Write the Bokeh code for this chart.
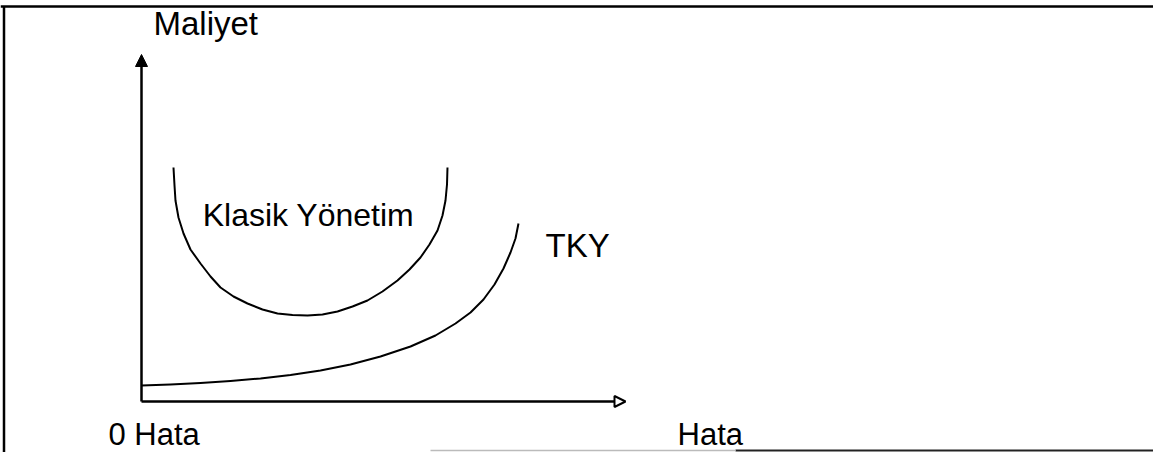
from bokeh.plotting import figure
from bokeh.models import Range1d, Arrow, NormalHead, Label
from bokeh.embed import file_html
from bokeh.resources import INLINE

# ---- data (abstract units: Hata on x, Maliyet on y) ----
tky_hata = [0, 5.99, 12.19, 18.39, 24.59, 30.79, 36.98, 43.18, 49.38, 55.58,
            60.74, 64.88, 67.98, 70.66, 72.93, 74.79, 76.24, 77.27, 77.89]
tky_maliyet = [4.61, 4.90, 5.33, 5.91, 6.63, 7.64, 8.93, 10.66, 12.97, 15.85,
               19.02, 22.48, 25.65, 29.39, 33.72, 38.33, 42.94, 46.97, 51.30]

klasik_hata = [6.61, 6.82, 7.02, 7.64, 8.68, 10.12, 12.19, 14.26, 16.32, 19.01,
               21.90, 25.00, 28.10, 31.20, 34.30, 37.40, 40.50, 43.60, 46.69, 49.79,
               52.89, 55.37, 57.64, 59.50, 61.16, 62.19, 62.81, 63.12, 63.22]
klasik_maliyet = [67.44, 62.25, 57.93, 53.03, 48.41, 43.80, 39.77, 36.02, 32.85, 30.26,
                  28.24, 26.51, 25.36, 24.93, 24.78, 25.07, 25.94, 27.38, 29.11, 31.70,
                  34.87, 38.04, 41.50, 45.24, 49.28, 53.60, 57.93, 62.54, 67.44]

x_axis_max = 100
y_axis_max = 100
y_title = "Maliyet"
x_origin_label = "0 Hata"
x_title = "Hata"
curve_labels = ["Klasik Yönetim", "TKY"]

# ---- layout ----
W, H = 1153, 452
PX, PY = 4.84, 3.47          # pixels per unit
OX, OY = 141, 401            # pixel position of origin
X0, X1 = -OX / PX, (W - OX) / PX
Y0, Y1 = -(H - OY) / PY, OY / PY


def ux(px):
    return (px - OX) / PX


def uy(py):
    return (OY - py) / PY


p = figure(width=W, height=H, output_backend="svg", toolbar_location=None,
           x_range=Range1d(X0, X1), y_range=Range1d(Y0, Y1),
           x_axis_location=None, y_axis_location=None, title=None,
           min_border=0, outline_line_color=None,
           background_fill_color="white", border_fill_color="white",
           styles={"position": "absolute", "left": "0px", "top": "0px"})
p.grid.visible = False

# frame lines of the scanned page
bx, ty, by = ux(3.5), uy(6), uy(450)
p.segment(x0=[bx], y0=[ty], x1=[bx], y1=[Y0], line_color="black", line_width=2.5)
p.segment(x0=[X0], y0=[ty], x1=[X1], y1=[ty], line_color="black", line_width=2.5)
p.segment(x0=[ux(735)], y0=[by], x1=[X1], y1=[by], line_color="#222222", line_width=2)
p.segment(x0=[ux(430)], y0=[by], x1=[ux(735)], y1=[by], line_color="#bbbbbb", line_width=1.5)

# axes with arrows
p.add_layout(Arrow(x_start=0, y_start=0, x_end=0, y_end=y_axis_max,
                   line_color="black", line_width=2.5,
                   end=NormalHead(size=12, fill_color="black", line_color="black", line_width=1)))
p.add_layout(Arrow(x_start=0, y_start=0, x_end=x_axis_max, y_end=0,
                   line_color="black", line_width=2.5,
                   end=NormalHead(size=11, fill_color="white", line_color="black", line_width=2)))

# curves
p.line(tky_hata, tky_maliyet, line_color="black", line_width=2, line_join="round")
p.line(klasik_hata, klasik_maliyet, line_color="black", line_width=2, line_join="round")

FONT = "Liberation Sans"


def label(px, py, text, size, align="left"):
    p.add_layout(Label(x=ux(px), y=uy(py), text=text, text_font=FONT,
                       text_font_size=size, text_baseline="middle",
                       text_align=align, text_color="black"))


label(153, 23, y_title, "33px")
label(308, 214, curve_labels[0], "32px", "center")
label(545, 245, curve_labels[1], "33px")
label(108, 434, x_origin_label, "31px")
label(677, 434, x_title, "31px")

open("out.html", "w").write(file_html(p, INLINE))
